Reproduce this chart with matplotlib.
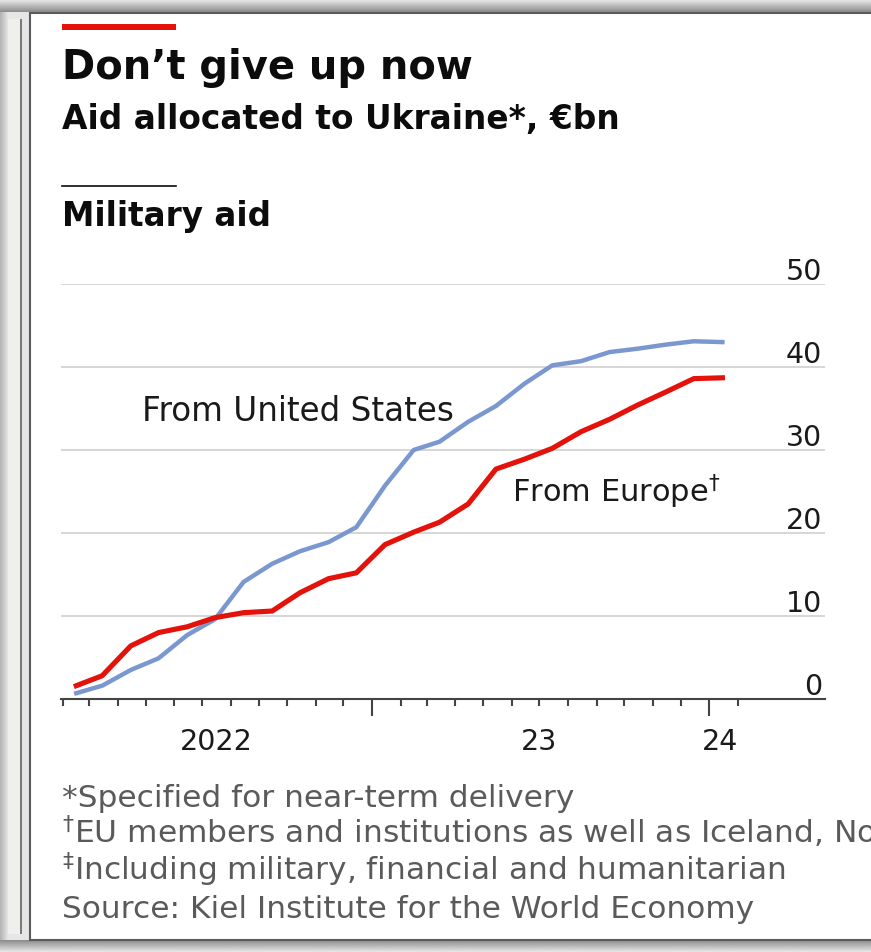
import matplotlib.pyplot as plt
import matplotlib.dates as mdates
import matplotlib.transforms as mtransforms
from matplotlib.patches import Rectangle
from matplotlib.ticker import FixedLocator
import numpy as np
import pandas as pd

# monthly points, mid-month, Feb 2022 - Jan 2024
months = pd.date_range("2022-02-01", "2024-01-01", freq="MS") + pd.Timedelta(days=14)
us_aid = [0.7, 1.6, 3.5, 4.9, 7.7, 9.6, 14.1, 16.3, 17.8, 18.9, 20.7, 25.7,
          30.0, 31.0, 33.4, 35.3, 38.0, 40.2, 40.7, 41.8, 42.2, 42.7, 43.1, 43.0]
europe_aid = [1.6, 2.8, 6.4, 8.0, 8.7, 9.8, 10.4, 10.6, 12.8, 14.5, 15.2, 18.6,
              20.1, 21.3, 23.5, 27.7, 28.9, 30.2, 32.2, 33.7, 35.4, 37.0, 38.6, 38.7]
y_ticks = [0, 10, 20, 30, 40, 50]
year_labels = ["2022", "23", "24"]
year_label_dates = ["2022-07-16", "2023-07-01", "2024-01-13"]
footnotes = [
    "*Specified for near-term delivery",
    "$^{\\dagger}$EU members and institutions as well as Iceland, Norway",
    "$^{\\ddagger}$Including military, financial and humanitarian",
    "Source: Kiel Institute for the World Economy",
]

W, H = 871, 953
RED = "#e3120b"
BLUE = "#7a98cf"

plt.rcParams["font.family"] = ["DejaVu Sans"]
plt.rcParams["mathtext.fontset"] = "dejavusans"

fig = plt.figure(figsize=(W / 100, H / 100), dpi=100, facecolor="#e6e6e6")


def px(x, y):
    # pixel position (from top-left) -> figure fraction
    return x / W, 1 - y / H


# frame around the card: shaded bands and the white panel
top = fig.add_axes([0, 1 - 13 / H, 1, 13 / H], zorder=-3)
top.imshow(np.linspace(0.93, 0.55, 20)[:, None], cmap="gray", vmin=0, vmax=1,
           aspect="auto", extent=[0, 1, 0, 1])
top.axis("off")
bot = fig.add_axes([0, 0, 1, 12 / H], zorder=-3)
bot.imshow(np.linspace(0.55, 0.9, 20)[:, None], cmap="gray", vmin=0, vmax=1,
           aspect="auto", extent=[0, 1, 0, 1])
bot.axis("off")
left = fig.add_axes([0, 12 / H, 8 / W, 1 - 25 / H], zorder=-3)
left.imshow(np.linspace(0.7, 0.92, 20)[None, :], cmap="gray", vmin=0, vmax=1,
            aspect="auto", extent=[0, 1, 0, 1])
left.axis("off")
fig.add_artist(Rectangle(px(8, 935), 12 / W, 915 / H, transform=fig.transFigure,
                         facecolor="#efefec", edgecolor="none", zorder=-2))
fig.add_artist(Rectangle(px(20, 935), 2 / W, 915 / H, transform=fig.transFigure,
                         facecolor="#7a7a7a", edgecolor="none", zorder=-2))
fig.add_artist(Rectangle(px(30, 941), 900 / W, 927 / H, transform=fig.transFigure,
                         facecolor="white", edgecolor="#5a5a5a", linewidth=1.5,
                         zorder=-1))

# headline block
fig.add_artist(Rectangle(px(62, 31), 114 / W, 6 / H, transform=fig.transFigure,
                         facecolor=RED, edgecolor="none"))
fig.text(*px(62, 79), "Don\u2019t give up now", fontsize=28.8, fontweight="bold",
         va="baseline", color="#0c0c0c")
fig.text(*px(62, 129), "Aid allocated to Ukraine*, \u20acbn", fontsize=23.7,
         fontweight="bold", va="baseline", color="#0c0c0c")
fig.add_artist(plt.Line2D([62 / W, 176 / W], [1 - 187 / H] * 2,
                          transform=fig.transFigure, color="#0c0c0c", linewidth=1.2))
fig.text(*px(62, 226), "Military aid", fontsize=23.5, fontweight="bold",
         va="baseline", color="#0c0c0c")

# chart area: zero line at y=700px, 50 at y=285px
ax = fig.add_axes([61 / W, (H - 700) / H, 764 / W, 415 / H])
ax.set_facecolor("none")
ax.set_ylim(0, 50)
ax.set_xlim(pd.Timestamp("2022-01-29 12:00"), pd.Timestamp("2024-05-05"))

for v in y_ticks[1:]:
    ax.axhline(v, color="#d3d3d3", linewidth=1.3, zorder=0)

ax.plot(months, us_aid, color=BLUE, linewidth=3.2, zorder=3)
ax.plot(months, europe_aid, color=RED, linewidth=3.7, zorder=4)

# value labels sit above their gridlines at the right
label_tr = mtransforms.offset_copy(
    mtransforms.blended_transform_factory(ax.transAxes, ax.transData),
    fig=fig, y=3.6, units="points")
for v in y_ticks:
    ax.text(0.996, v, str(v), transform=label_tr, ha="right", va="baseline",
            fontsize=20.5, color="#1a1a1a")

# x axis: monthly ticks, longer ones at each new year
for s in ["top", "left", "right"]:
    ax.spines[s].set_visible(False)
ax.spines["bottom"].set_color("#444444")
ax.spines["bottom"].set_linewidth(1.5)
ax.set_yticks([])
ax.xaxis.set_major_locator(FixedLocator(mdates.date2num(
    pd.to_datetime(["2023-01-01", "2024-01-01"]))))
ax.xaxis.set_minor_locator(FixedLocator(mdates.date2num(
    pd.date_range("2022-02-01", "2024-02-01", freq="MS"))))
ax.tick_params(axis="x", which="major", length=12, width=1.5, color="#444444",
               labelbottom=False)
ax.tick_params(axis="x", which="minor", length=5, width=1.5, color="#444444")

for lab, d in zip(year_labels, year_label_dates):
    ax.text(pd.Timestamp(d), 0, lab, transform=mtransforms.offset_copy(
        ax.transData, fig=fig, y=-36, units="points"),
        ha="center", va="baseline", fontsize=20.5, color="#1a1a1a")

ax.text(pd.Timestamp("2022-04-27"), 33.6, "From United States", fontsize=23.5,
        va="baseline", color="#1a1a1a")
ax.text(pd.Timestamp("2023-06-01"), 23.8, "From Europe$^{\\dagger}$", fontsize=22,
        va="baseline", color="#1a1a1a")

# footnotes
for note, base in zip(footnotes, [807, 843, 880, 918]):
    fig.text(*px(62, base), note, fontsize=22.5, va="baseline", color="#5a5a5a")

fig.savefig("out.png", dpi=100, facecolor=fig.get_facecolor())
